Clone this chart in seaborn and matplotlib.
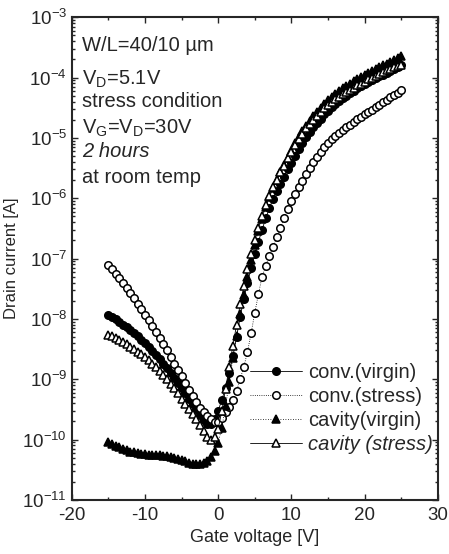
import numpy as np
import pandas as pd
import seaborn as sns
import matplotlib
matplotlib.use('Agg')
import matplotlib.pyplot as plt
from matplotlib.ticker import LogLocator, MultipleLocator, NullFormatter

# gate voltage sweep, -15 V .. 25 V in 0.5 V steps
gate_v = [-15.0 + 0.5 * i for i in range(81)]

# log10(drain current [A])
conv_virgin_log = [
    -7.93, -7.96, -8.00, -8.05, -8.10, -8.14, -8.19, -8.24, -8.29, -8.35,
    -8.40, -8.46, -8.53, -8.60, -8.67, -8.74, -8.82, -8.90, -8.98, -9.06,
    -9.14, -9.23, -9.33, -9.41, -9.50, -9.59, -9.67, -9.74, -9.74, -9.66,
    -9.52, -9.34, -9.14, -8.90, -8.62, -8.30, -7.97, -7.67, -7.40, -7.16,
    -6.93, -6.72, -6.52, -6.33, -6.16, -6.01, -5.88, -5.76, -5.64, -5.52,
    -5.41, -5.30, -5.19, -5.08, -4.98, -4.90, -4.82, -4.75, -4.68, -4.61,
    -4.55, -4.49, -4.44, -4.39, -4.34, -4.30, -4.26, -4.22, -4.18, -4.14,
    -4.11, -4.07, -4.04, -4.01, -3.98, -3.95, -3.92, -3.89, -3.86, -3.83,
    -3.80]
conv_stress_log = [
    -7.11, -7.18, -7.25, -7.32, -7.40, -7.48, -7.57, -7.66, -7.75, -7.84,
    -7.93, -8.02, -8.12, -8.22, -8.32, -8.42, -8.52, -8.63, -8.74, -8.85,
    -8.95, -9.06, -9.17, -9.28, -9.38, -9.47, -9.55, -9.61, -9.66, -9.70,
    -9.70, -9.64, -9.55, -9.46, -9.35, -9.19, -9.00, -8.79, -8.55, -8.23,
    -7.90, -7.58, -7.30, -7.12, -6.95, -6.80, -6.65, -6.49, -6.33, -6.18,
    -6.05, -5.93, -5.82, -5.71, -5.60, -5.50, -5.40, -5.31, -5.23, -5.15,
    -5.08, -5.02, -4.97, -4.92, -4.87, -4.82, -4.78, -4.73, -4.69, -4.65,
    -4.61, -4.57, -4.53, -4.49, -4.45, -4.41, -4.37, -4.33, -4.29, -4.25,
    -4.21]
cavity_virgin_log = [
    -10.04, -10.07, -10.10, -10.13, -10.16, -10.18, -10.20, -10.21, -10.22, -10.23,
    -10.24, -10.25, -10.25, -10.26, -10.26, -10.27, -10.27, -10.28, -10.30, -10.32,
    -10.34, -10.36, -10.38, -10.40, -10.41, -10.41, -10.39, -10.35, -10.28, -10.19,
    -10.05, -9.80, -9.45, -9.05, -8.65, -8.28, -7.92, -7.60, -7.30, -7.02,
    -6.78, -6.55, -6.34, -6.15, -5.98, -5.83, -5.70, -5.57, -5.45, -5.33,
    -5.21, -5.09, -4.98, -4.89, -4.80, -4.72, -4.64, -4.57, -4.50, -4.44,
    -4.38, -4.33, -4.28, -4.23, -4.18, -4.14, -4.10, -4.06, -4.02, -3.99,
    -3.96, -3.92, -3.89, -3.86, -3.83, -3.80, -3.77, -3.74, -3.71, -3.68,
    -3.65]
cavity_stress_log = [
    -8.26, -8.29, -8.32, -8.35, -8.39, -8.42, -8.46, -8.50, -8.54, -8.58,
    -8.63, -8.68, -8.74, -8.80, -8.86, -8.93, -9.00, -9.07, -9.15, -9.23,
    -9.32, -9.41, -9.50, -9.58, -9.66, -9.75, -9.85, -9.95, -10.00, -9.96,
    -9.82, -9.52, -9.16, -8.80, -8.45, -8.10, -7.76, -7.46, -7.18, -6.92,
    -6.70, -6.49, -6.29, -6.12, -5.96, -5.82, -5.69, -5.57, -5.46, -5.34,
    -5.23, -5.12, -5.02, -4.93, -4.84, -4.77, -4.70, -4.63, -4.57, -4.51,
    -4.46, -4.41, -4.36, -4.32, -4.28, -4.24, -4.20, -4.17, -4.13, -4.10,
    -4.07, -4.03, -4.00, -3.97, -3.94, -3.91, -3.88, -3.86, -3.83, -3.81,
    -3.79]

series_names = ['conv.(virgin)', 'conv.(stress)', 'cavity(virgin)', 'cavity (stress)']
series_logs = [conv_virgin_log, conv_stress_log, cavity_virgin_log, cavity_stress_log]

rows = []
for name, logs in zip(series_names, series_logs):
    for v, lg in zip(gate_v, logs):
        rows.append({'series': name, 'Vg': v, 'Id': 10.0 ** lg})
df = pd.DataFrame(rows)

sns.set_style('ticks')
plt.rcParams['font.family'] = ['Liberation Sans', 'DejaVu Sans']
plt.rcParams['mathtext.default'] = 'regular'
plt.rcParams['axes.unicode_minus'] = False

fig = plt.figure(figsize=(4.49, 5.54), dpi=100)
ax = fig.add_axes([0.160, 0.0975, 0.815, 0.8715])

styles = {
    'conv.(virgin)': dict(marker='o', mfc='black', ls='-'),
    'conv.(stress)': dict(marker='o', mfc='white', ls=':'),
    'cavity(virgin)': dict(marker='^', mfc='black', ls=(0, (1, 2))),
    'cavity (stress)': dict(marker='^', mfc='white', ls='-'),
}
for name in series_names:
    st = styles[name]
    sns.lineplot(data=df[df['series'] == name], x='Vg', y='Id', ax=ax,
                 estimator=None, sort=False, color='black', lw=0.6,
                 linestyle=st['ls'], marker=st['marker'], markersize=5.4,
                 markerfacecolor=st['mfc'], markeredgecolor='black',
                 markeredgewidth=1.1, label=name)

ax.set_yscale('log')
ax.set_xlim(-20, 30)
ax.set_ylim(1e-11, 1e-3)
ax.xaxis.set_major_locator(MultipleLocator(10))
ax.xaxis.set_minor_locator(MultipleLocator(5))
ax.yaxis.set_major_locator(LogLocator(base=10, numticks=20))
ax.yaxis.set_minor_locator(LogLocator(base=10, subs=np.arange(2, 10), numticks=20))
ax.yaxis.set_minor_formatter(NullFormatter())
ax.tick_params(which='both', direction='in', top=True, right=True, labelsize=13.5, width=1.0)
ax.tick_params(which='major', length=4)
ax.tick_params(which='minor', length=2)
ax.tick_params(axis='x', pad=5)
for sp in ax.spines.values():
    sp.set_linewidth(1.5)

ax.set_xlabel('Gate voltage [V]', fontsize=13, labelpad=4)
ax.set_ylabel('Drain current [A]', fontsize=12, labelpad=2)

notes = [('W/L=40/10 \u00b5m', 0.942, 'normal'), ('V$_D$=5.1V', 0.872, 'normal'),
         ('stress condition', 0.826, 'normal'), ('V$_G$=V$_D$=30V', 0.770, 'normal'),
         ('2 hours', 0.722, 'italic'), ('at room temp', 0.667, 'normal')]
for txt, yy, sty in notes:
    ax.text(0.027, yy, txt, transform=ax.transAxes, fontsize=14.5, style=sty,
            va='center', ha='left')

leg = ax.legend(loc='upper left', bbox_to_anchor=(0.486, 0.283), frameon=False, fontsize=14.5,
                handlelength=2.6, handletextpad=0.3, labelspacing=0.25, borderpad=0,
                borderaxespad=0)
leg.get_texts()[3].set_fontstyle('italic')

fig.savefig('out.png', dpi=100)
